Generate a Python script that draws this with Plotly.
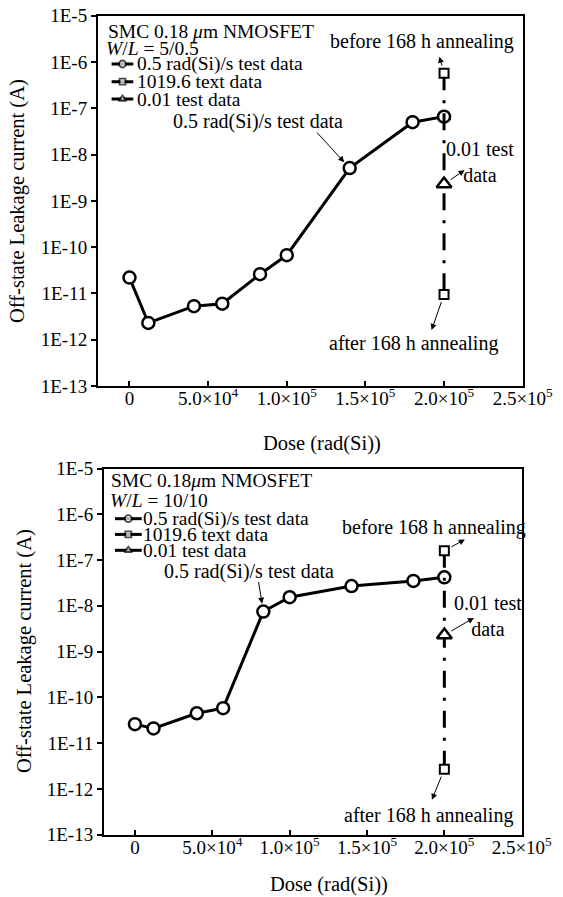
import math
import plotly.graph_objects as go

# ---------------- data ----------------
# panel (a): W/L = 5/0.5
dose_a = [0, 1.2e4, 4.1e4, 5.9e4, 8.3e4, 1.0e5, 1.4e5, 1.8e5, 2.0e5]
leak_a = [2.2e-11, 2.3e-12, 5.3e-12, 6.0e-12, 2.6e-11, 6.7e-11, 5.1e-9, 5.0e-8, 6.6e-8]
hdr_dose_a = [2.0e5, 2.0e5]
hdr_leak_a = [5.7e-7, 9.5e-12]          # before / after 168 h annealing
ldr_dose_a = [2.0e5]
ldr_leak_a = [2.3e-9]

# panel (b): W/L = 10/10
dose_b = [0, 1.2e4, 4.0e4, 5.7e4, 8.3e4, 1.0e5, 1.4e5, 1.8e5, 2.0e5]
leak_b = [2.6e-11, 2.1e-11, 4.5e-11, 5.8e-11, 7.5e-9, 1.54e-8, 2.7e-8, 3.5e-8, 4.2e-8]
hdr_dose_b = [2.0e5, 2.0e5]
hdr_leak_b = [1.6e-7, 2.7e-12]
ldr_dose_b = [2.0e5]
ldr_leak_b = [2.3e-9]

series_names = ["0.5 rad(Si)/s test data", "1019.6 text data", "0.01 test data"]
panel_titles = ["SMC 0.18 <i>μ</i>m NMOSFET", "SMC 0.18<i>μ</i>m NMOSFET"]
panel_wl = ["<i>W</i>/<i>L</i> = 5/0.5", "<i>W</i>/<i>L</i> = 10/10"]

x_tickvals = [0, 5e4, 1e5, 1.5e5, 2e5, 2.5e5]
x_ticktext = ["0", "5.0×10<sup>4</sup>", "1.0×10<sup>5</sup>", "1.5×10<sup>5</sup>",
              "2.0×10<sup>5</sup>", "2.5×10<sup>5</sup>"]
y_exps = [-5, -6, -7, -8, -9, -10, -11, -12, -13]
y_tickvals = [10.0 ** e for e in y_exps]
y_ticktext = ["1E%d" % e for e in y_exps]

# ---------------- style ----------------
FONT = "Liberation Serif"
W, H = 563, 897
BLACK = "black"

# subplot pixel boxes (left, right, top, bottom)
boxes = [(98, 522.7, 15.7, 386.0), (104, 521.7, 468.5, 834.7)]


def dom(box):
    l, r, t, b = box
    return [l / W, r / W], [1 - b / H, 1 - t / H]


fig = go.Figure()

panels = [
    (dose_a, leak_a, hdr_dose_a, hdr_leak_a, ldr_dose_a, ldr_leak_a),
    (dose_b, leak_b, hdr_dose_b, hdr_leak_b, ldr_dose_b, ldr_leak_b),
]

for i, (d, l, hd, hl, ld, ll) in enumerate(panels):
    xa = "x" if i == 0 else "x2"
    ya = "y" if i == 0 else "y2"
    fig.add_trace(go.Scatter(
        x=d, y=l, xaxis=xa, yaxis=ya, mode="lines+markers", name=series_names[0],
        line=dict(color=BLACK, width=3),
        marker=dict(symbol="circle", size=12, color="white", line=dict(color=BLACK, width=2.5)),
        showlegend=False))
    fig.add_trace(go.Scatter(
        x=hd, y=hl, xaxis=xa, yaxis=ya, mode="lines+markers", name=series_names[1],
        line=dict(color=BLACK, width=3, dash="17px,10px,3px,10px"),
        marker=dict(symbol="square", size=9, color="white", line=dict(color=BLACK, width=2)),
        showlegend=False))
    fig.add_trace(go.Scatter(
        x=ld, y=ll, xaxis=xa, yaxis=ya, mode="markers", name=series_names[2],
        marker=dict(symbol="triangle-up", size=13, color="white", line=dict(color=BLACK, width=2.5)),
        showlegend=False))

# ---------------- custom compact legends (overlay axes in 0..1 units) ----------------
legend_geo = [
    dict(key=(0.032, 0.0577, 0.083), rows=[0.8696, 0.8218, 0.775], text_x=0.088,
         title=(0.020, 0.9568), wl=(0.014, 0.912)),
    dict(key=(0.0263, 0.0582, 0.0903), rows=[0.863, 0.820, 0.7766], text_x=0.088,
         title=(0.012, 0.9678), wl=(0.010, 0.9132)),
]
key_symbols = [("circle", 7), ("square", 6), ("triangle-up", 7)]
LEG_SIZE = 19.5
NOTE_SIZE = 20

annotations = []
for i, g in enumerate(legend_geo):
    xo = "x3" if i == 0 else "x4"
    yo = "y3" if i == 0 else "y4"
    x0, xm, x1 = g["key"]
    for (sym, sz), fy, nm in zip(key_symbols, g["rows"], series_names):
        fig.add_trace(go.Scatter(
            x=[x0, xm, x1], y=[fy, fy, fy], xaxis=xo, yaxis=yo, mode="lines+markers",
            line=dict(color=BLACK, width=3),
            marker=dict(symbol=sym, size=[0, sz, 0], color="white",
                        line=dict(color=BLACK, width=1.8)),
            showlegend=False, hoverinfo="skip"))
        annotations.append(dict(x=g["text_x"], y=fy, xref=xo, yref=yo, text=nm,
                                showarrow=False, xanchor="left", yanchor="middle",
                                font=dict(family=FONT, size=LEG_SIZE, color=BLACK)))
    annotations.append(dict(x=g["title"][0], y=g["title"][1], xref=xo, yref=yo,
                            text=panel_titles[i], showarrow=False, xanchor="left",
                            yanchor="middle", font=dict(family=FONT, size=LEG_SIZE, color=BLACK)))
    annotations.append(dict(x=g["wl"][0], y=g["wl"][1], xref=xo, yref=yo,
                            text=panel_wl[i], showarrow=False, xanchor="left",
                            yanchor="middle", font=dict(family=FONT, size=LEG_SIZE, color=BLACK)))

# ---------------- text notes and arrows ----------------
notes = [
    # (panel, text, fx, fy)
    (0, "before 168 h annealing", 0.764, 0.930),
    (0, "0.5 rad(Si)/s test data", 0.3756, 0.713),
    (0, "0.01 test<br>data", 0.899, 0.605),
    (0, "after 168 h annealing", 0.742, 0.1153),
    (1, "before 168 h annealing", 0.790, 0.840),
    (1, "0.5 rad(Si)/s test data", 0.3467, 0.720),
    (1, "0.01 test<br>data", 0.919, 0.597),
    (1, "after 168 h annealing", 0.778, 0.053),
]
for p, txt, fx, fy in notes:
    xa = "x" if p == 0 else "x2"
    ya = "y" if p == 0 else "y2"
    annotations.append(dict(x=fx, y=fy, xref=xa + " domain", yref=ya + " domain", text=txt,
                            showarrow=False, xanchor="center", yanchor="middle",
                            font=dict(family=FONT, size=NOTE_SIZE, color=BLACK)))

# arrows anchored on data points: (panel, x, y, ax, ay, head_at_text)
arrows = [
    (0, hdr_dose_a[0], hdr_leak_a[0], -5, -18, True),
    (0, hdr_dose_a[1], hdr_leak_a[1], -13, 37, True),
    (0, ldr_dose_a[0], ldr_leak_a[0], 22, -15, True),
    (0, dose_a[6], leak_a[6], -34, -37, False),
    (1, hdr_dose_b[0], hdr_leak_b[0], 22, -12, True),
    (1, hdr_dose_b[1], hdr_leak_b[1], -13, 32, True),
    (1, ldr_dose_b[0], ldr_leak_b[0], 31, -18, True),
    (1, dose_b[4], leak_b[4], -5, -31, False),
]
for p, x, y, ax, ay, head_text in arrows:
    xa = "x" if p == 0 else "x2"
    ya = "y" if p == 0 else "y2"
    annotations.append(dict(x=x, y=math.log10(y), xref=xa, yref=ya, text="",
                            showarrow=True, ax=ax, ay=ay, axref="pixel", ayref="pixel",
                            arrowhead=2, startarrowhead=2, arrowsize=1.2, startarrowsize=1.2,
                            arrowwidth=1, arrowcolor=BLACK,
                            arrowside="start" if head_text else "end",
                            standoff=8, startstandoff=0))

# axis titles
axis_titles = [
    ("Dose (rad(Si))", 322 / W, 1 - 443 / H, 0),
    ("Dose (rad(Si))", 329 / W, 1 - 884 / H, 0),
    ("Off-state Leakage current (A)", 18 / W, 1 - 201 / H, -90),
    ("Off-state Leakage current (A)", 24 / W, 1 - 651 / H, -90),
]
for txt, px, py, ang in axis_titles:
    annotations.append(dict(x=px, y=py, xref="paper", yref="paper", text=txt,
                            showarrow=False, textangle=ang, xanchor="center",
                            yanchor="middle", font=dict(family=FONT, size=20.5, color=BLACK)))

# ---------------- axes ----------------
common_x = dict(range=[-2e4, 2.5e5], tickvals=x_tickvals, ticktext=x_ticktext,
                ticks="inside", ticklen=5, tickwidth=1.5, tickcolor=BLACK,
                showline=True, linewidth=2, linecolor=BLACK, mirror=True,
                showgrid=False, zeroline=False, automargin=False, ticklabelstandoff=-6,
                tickfont=dict(family=FONT, size=19, color=BLACK))
common_y = dict(type="log", range=[-13, -5], tickvals=y_tickvals, ticktext=y_ticktext,
                ticks="outside", ticklen=5, tickwidth=1.5, tickcolor=BLACK,
                showline=True, linewidth=2, linecolor=BLACK, mirror=True,
                showgrid=False, zeroline=False, automargin=False,
                tickfont=dict(family=FONT, size=19, color=BLACK))
overlay = dict(range=[0, 1], visible=False, automargin=False, showgrid=False, zeroline=False)

xd0, yd0 = dom(boxes[0])
xd1, yd1 = dom(boxes[1])

fig.update_layout(
    width=W, height=H,
    margin=dict(l=0, r=0, t=0, b=0, pad=0),
    paper_bgcolor="white", plot_bgcolor="white",
    font=dict(family=FONT, color=BLACK),
    showlegend=False,
    xaxis=dict(domain=xd0, anchor="y", **common_x),
    yaxis=dict(domain=yd0, anchor="x", **common_y),
    xaxis2=dict(domain=xd1, anchor="y2", **common_x),
    yaxis2=dict(domain=yd1, anchor="x2", **common_y),
    xaxis3=dict(domain=xd0, anchor="y3", overlaying="x", **overlay),
    yaxis3=dict(domain=yd0, anchor="x3", overlaying="y", **overlay),
    xaxis4=dict(domain=xd1, anchor="y4", overlaying="x2", **overlay),
    yaxis4=dict(domain=yd1, anchor="x4", overlaying="y2", **overlay),
    annotations=annotations,
)

# remove the browser's default 8px body margin so the figure sits at the page corner
fig.write_html("out.html",
               config={"displayModeBar": False},
               post_script="document.body.style.margin='0px';"
                           "document.body.style.overflow='hidden';")
